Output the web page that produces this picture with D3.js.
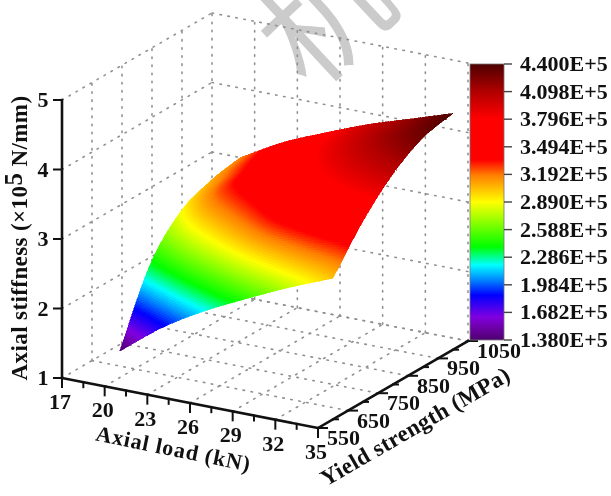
<!DOCTYPE html>
<html><head><meta charset="utf-8">
<script src="https://cdn.jsdelivr.net/npm/d3@7"></script>
<style>html,body{margin:0;padding:0;background:#fff;overflow:hidden}svg{display:block}</style>
</head><body><svg id="c" width="611" height="496"></svg>
<script>
const loadValues=[20,23,26,29,32,35];
const strengthValues=[600,700,800,900,1000];
const stiffnessRows=[
 [1.38,1.84,2.20,2.50,2.78,3.03],
 [2.36,2.72,3.05,3.35,3.52,3.60],
 [2.87,3.25,3.50,3.72,3.90,4.03],
 [3.07,3.40,3.68,3.92,4.13,4.30],
 [3.16,3.50,3.76,4.00,4.20,4.40]];
const loadTicks=[17,20,23,26,29,32,35];
const loadMinor=[18.5,21.5,24.5,27.5,30.5,33.5];
const strengthTicks=[550,650,750,850,950,1050];
const strengthMinor=[600,700,800,900,1000];
const zTicks=[1,2,3,4,5];
const legendTicks=["1.380E+5","1.682E+5","1.984E+5","2.286E+5","2.588E+5","2.890E+5","3.192E+5","3.494E+5","3.796E+5","4.098E+5","4.400E+5"];
const colorDomain=[1.38,1.5,1.63,1.87,2.03,2.2,2.4,2.89,3.18,3.35,3.8,4.1,4.4];
const colorRange=["#4d0070","#6a00a0","#8000e0","#0000ff","#0080ff","#00ffff","#00ff00","#ffff00","#ff8000","#ff0000","#ff0000","#b00000","#4d0000"];

const color=d3.scaleLinear().domain(colorDomain).range(colorRange).clamp(true);
const ox=62,oy=378;
const sx=d3.scaleLinear().domain([17,35]).range([0,1]);
const sy=d3.scaleLinear().domain([550,1050]).range([0,1]);
const sz=d3.scaleLinear().domain([1,5]).range([0,-278]);
const P=(x,y,z)=>[ox+sx(x)*256+sy(y)*150, oy+sx(x)*50-sy(y)*87+sz(z)];
const svg=d3.select("#c");
const defs=svg.append("defs");
defs.append("filter").attr("id","soft").attr("x","-5%").attr("y","-5%").attr("width","110%").attr("height","110%")
  .attr("color-interpolation-filters","sRGB")
  .append("feGaussianBlur").attr("stdDeviation",0.55);
const root=svg.append("g").attr("filter","url(#soft)");
const FONT="'Liberation Serif','Times New Roman',serif";

// watermark
root.append("text").text("机").attr("transform","translate(318,10) rotate(-43)")
  .attr("text-anchor","middle").attr("dominant-baseline","central")
  .attr("font-family","'Noto Sans CJK SC'").attr("font-size",125).attr("font-weight",400).attr("fill","#cbcbcb");

// grid
const grid=root.append("g").attr("fill","none").attr("stroke","#909090").attr("stroke-width",1.6).attr("stroke-dasharray","1.5 6.6").attr("stroke-linecap","round");
const seg=(a,b)=>grid.append("path").attr("d",d3.line()([a,b]));
zTicks.forEach(z=>{seg(P(17,550,z),P(17,1050,z));seg(P(17,1050,z),P(35,1050,z));});
loadTicks.slice(1).forEach(x=>{seg(P(x,550,1),P(x,1050,1));seg(P(x,1050,1),P(x,1050,5));});
strengthTicks.slice(1).forEach(y=>{seg(P(17,y,1),P(35,y,1));seg(P(17,y,1),P(17,y,5));});

// surface
function cr(p,t){
  const n=p.length-1,u=Math.min(Math.max(t,0),n),i=Math.min(Math.floor(u),n-1),f=u-i;
  const p1=p[i],p2=p[i+1],p0=i>0?p[i-1]:2*p1-p2,p3=i<n-1?p[i+2]:2*p2-p1;
  return 0.5*(2*p1+(p2-p0)*f+(2*p0-5*p1+4*p2-p3)*f*f+(3*p1-p0-3*p2+p3)*f*f*f);
}
const val=(i,j)=>cr(stiffnessRows.map(r=>cr(r,i)),j);
const tx=d3.scaleLinear().domain([0,loadValues.length-1]).range(d3.extent(loadValues));
const ty=d3.scaleLinear().domain([0,strengthValues.length-1]).range(d3.extent(strengthValues));
const N=28,nI=(loadValues.length-1)*N,nJ=(strengthValues.length-1)*N;
const surf=root.append("g").attr("shape-rendering","crispEdges");
for(let b=nJ-1;b>=0;b--)for(let a=0;a<nI;a++){
  const c=[[a,b],[a+1,b],[a+1,b+1],[a,b+1]].map(([u,v])=>[u/N,v/N]);
  const pts=c.map(([i,j])=>P(tx(i),ty(j),val(i,j)));
  const col=color(d3.mean(c,([i,j])=>val(i,j)));
  surf.append("path").attr("d",d3.line().curve(d3.curveLinearClosed)(pts)).attr("fill",col).attr("stroke",col).attr("stroke-width",0.6);
}

// axes
const axes=root.append("g").attr("stroke","#111").attr("stroke-linecap","square").attr("fill","none");
const ln=(a,b,w)=>axes.append("path").attr("d",d3.line()([a,b])).attr("stroke-width",w);
ln(P(17,550,1),P(17,550,5),2.6);
ln(P(17,550,1),P(35,550,1),2.6);
ln(P(35,550,1),P(35,1050,1),2.6);
zTicks.forEach(z=>{const p=P(17,550,z);ln([p[0]-8,p[1]],p,2);});
loadTicks.forEach(x=>{const p=P(x,550,1);ln(p,[p[0],p[1]+9],2);});
loadMinor.forEach(x=>{const p=P(x,550,1);ln(p,[p[0],p[1]+5],2);});
strengthTicks.forEach(y=>{const p=P(35,y,1);ln(p,[p[0]+9,p[1]],2);});
strengthMinor.forEach(y=>{const p=P(35,y,1);ln(p,[p[0]+5,p[1]],2);});

const T=(s,x,y,size,anchor,rot)=>root.append("text").text(s)
  .attr("transform",`translate(${x},${y})`+(rot?` rotate(${rot})`:""))
  .attr("text-anchor",anchor).attr("font-family",FONT).attr("font-weight","bold").attr("font-size",size).attr("fill","#111");
zTicks.forEach(z=>{const p=P(17,550,z);T(z,p[0]-19,p[1]+7,22,"middle");});
loadTicks.forEach(x=>{const p=P(x,550,1);T(x,p[0]-2,p[1]+31,22,"middle");});
strengthTicks.forEach(y=>{const p=P(35,y,1);T(y,p[0]+9,p[1]+17,22,"start");});
T("Axial load (kN)",172,456,22,"middle",11.5).attr("letter-spacing",0.9);
T("Yield strength (MPa)",419,433,23,"middle",-30).attr("letter-spacing",0.4);
const zt=T("",27,238,23,"middle",-90).attr("letter-spacing",0.4);
zt.append("tspan").text("Axial stiffness (×10");
zt.append("tspan").text("5").attr("font-size",25).attr("dy",-5);
zt.append("tspan").text(" N/mm)").attr("dy",5);

// legend
const lx=470,lw=34,lTop=64,lBot=340;
const ly=d3.scaleLinear().domain([1.38,4.4]).range([lBot,lTop]);
const grad=defs.append("linearGradient").attr("id","lg").attr("x1",0).attr("x2",0).attr("y1",1).attr("y2",0);
colorDomain.forEach((v,i)=>grad.append("stop").attr("offset",(v-1.38)/(4.4-1.38)).attr("stop-color",colorRange[i]));
const lg=root.append("g");
lg.append("rect").attr("x",lx).attr("y",lTop).attr("width",lw).attr("height",lBot-lTop).attr("fill","url(#lg)").attr("stroke","#777").attr("stroke-width",0.8);
legendTicks.forEach(s=>{const y=ly(+s.replace("E+5",""));
  lg.append("line").attr("x1",lx+lw).attr("x2",lx+lw+8).attr("y1",y).attr("y2",y).attr("stroke","#444").attr("stroke-width",1.4);
  T(s,520,y+7,22,"start");});
</script></body></html>
